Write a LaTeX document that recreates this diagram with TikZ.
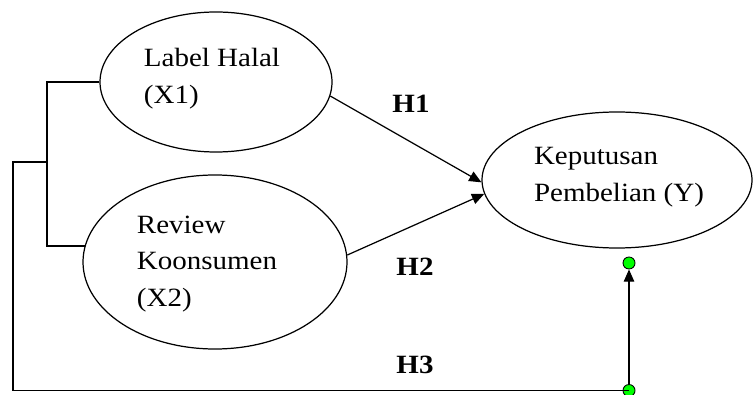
\documentclass[tikz,border=0pt]{standalone}
\usepackage{fontspec}
\setmainfont[FakeStretch=1.1]{Liberation Serif}
\usetikzlibrary{arrows.meta,shapes.geometric}

\tikzset{
    var/.style   = {ellipse, draw, line width=0.7pt, inner sep=0pt},
    txt/.style   = {align=left, font=\fontsize{15}{21}\selectfont},
    hyp/.style   = {font=\fontsize{15}{18}\selectfont\bfseries},
    link/.style  = {line width=0.7pt},
    arr/.style   = {line width=0.7pt, -{Triangle[length=7pt,width=6pt]}},
    handle/.style= {circle, draw, fill=green, line width=0.5pt, minimum size=0.24cm, inner sep=0pt}
}

\begin{document}
\begin{tikzpicture}
    \useasboundingbox (0,0) rectangle (15.1,7.88);

    % variables
    \node[var, minimum width=4.64cm, minimum height=2.8cm]  (X1) at (4.32,6.24) {};
    \node[var, minimum width=5.28cm, minimum height=3.48cm] (X2) at (4.30,2.64) {};
    \node[var, minimum width=5.4cm,  minimum height=2.72cm] (Y)  at (12.34,4.28) {};

    \node[txt] (tX1) at (4.24,6.30) {Label Halal\\(X1)};
    \node[txt] (tX2) at (4.14,2.60) {Review\\Koonsumen\\(X2)};
    \node[txt] (tY)  at (12.38,4.34) {Keputusan\\Pembelian (Y)};

    % bracket and outer path
    \coordinate (jn)  at (0.94,4.64);
    \coordinate (ol)  at (0.26,4.64);
    \coordinate (bl)  at (0.26,0.07);
    \node[handle] (hB) at (12.58,0.07) {};
    \node[handle] (hT) at (12.58,2.62) {};

    \draw[link] (X1.west) -| (jn) |- (X2.173);
    \draw[link] (jn) -- (ol) -- (bl) -- (hB.center);
    \draw[arr] (hB) -- (hT);

    % hypotheses
    \draw[arr] (X1.-7) -- (Y.181);
    \draw[arr] (X2.3) -- (Y.186);

    \node[hyp] (H1) at (8.22,5.80) {H1};
    \node[hyp] (H2) at (8.30,2.54) {H2};
    \node[hyp] (H3) at (8.30,0.58) {H3};
\end{tikzpicture}
\end{document}
